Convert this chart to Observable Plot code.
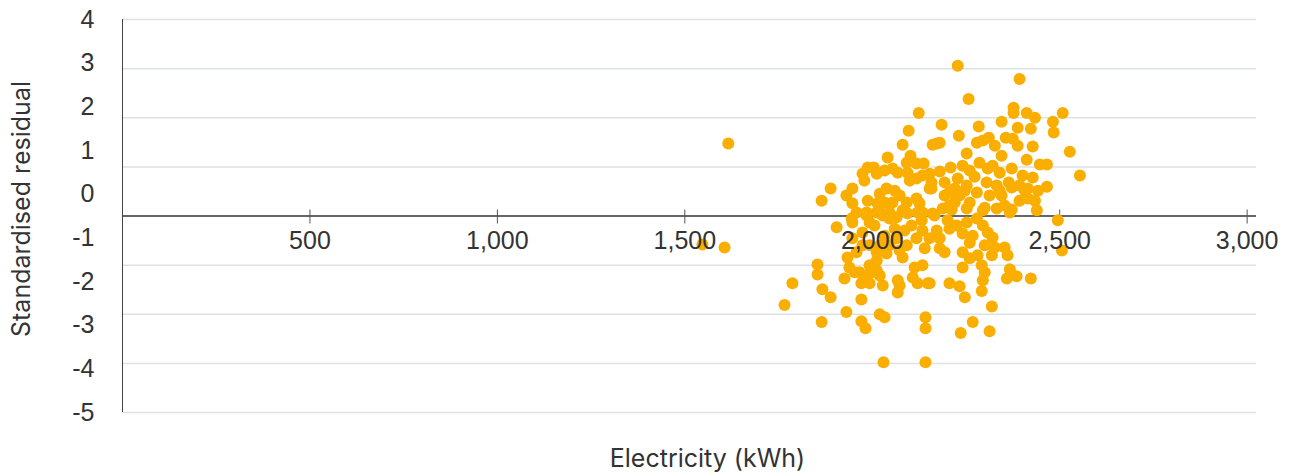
<!DOCTYPE html>
<html>
<head>
<meta charset="utf-8">
<script src="https://cdn.jsdelivr.net/npm/d3@7"></script>
<script src="https://cdn.jsdelivr.net/npm/@observablehq/plot@0.6"></script>
<style>
  html, body { margin: 0; padding: 0; background: #fff; }
  #chart svg { display: block; }
</style>
</head>
<body>
<div id="chart"></div>
<script>
// Electricity (kWh) of each observation
const electricity = [
  1616,1547,1606,2228,2393,2257,2377,2377,2412,2434,2508,2482,2484,2185,2284,2345,2388,2423,2231,2172,
  2180,2311,2356,2375,2388,2428,2527,2554,2412,2447,2466,2252,2279,2295,2327,2345,2209,2180,2372,2401,
  2428,2415,2442,2466,2415,2434,2364,2372,2241,2260,2228,2252,2233,2206,2286,2308,2321,2340,2305,2332,
  2313,2345,2279,2260,2188,2212,2439,2372,2158,2158,2193,2220,2273,2300,2393,2353,2407,2247,2124,2097,
  2081,2161,2102,2041,2092,2118,2137,1988,2004,1974,1979,2012,2033,2054,2068,2094,2100,2118,2134,2153,
  2153,1889,1865,1931,1947,1947,1988,2020,2038,2060,2073,2033,2054,2092,2118,2014,2126,1958,1985,2020,
  2046,2081,2134,2161,1905,1945,1947,1985,1993,2012,2028,2046,2065,2094,2121,2132,2134,1974,1947,1974,
  1958,1934,1993,2012,2038,2065,2092,2118,2140,2153,2081,2012,1993,1939,1953,1926,1966,1979,1993,2012,
  2020,2028,1971,1993,2068,2073,2068,2113,2134,2108,2121,2148,1971,1854,1854,1787,1766,1867,1889,1865,
  1931,1971,1982,2020,2033,2030,2142,2142,2142,2206,2252,2295,2332,2367,2166,2201,2172,2206,2180,2180,
  2193,2225,2252,2279,2295,2308,2321,2241,2268,2260,2241,2260,2281,2300,2327,2319,2353,2361,2495,2506,
  2241,2292,2300,2295,2292,2206,2233,2247,2367,2359,2385,2423,2319,2268,2236,2313,2153,2006,2033,2060,
  2086,2105,2020,2046,2073,2193,2220,2393,2340
];
// Standardised residual of each observation
const residual = [
  1.16,-1.15,-1.22,2.94,2.64,2.18,1.98,1.86,1.86,1.75,1.86,1.66,1.41,1.59,1.55,1.66,1.52,1.50,1.34,1.16,
  1.18,1.29,1.29,1.27,1.11,1.09,0.97,0.43,0.79,0.68,0.68,0.93,1.18,1.23,1.11,0.88,0.61,0.52,0.59,0.43,
  0.38,0.13,0.08,0.17,-0.10,-0.15,0.27,0.15,0.65,0.54,0.36,0.20,-0.03,0.04,0.72,0.59,0.65,0.49,0.27,0.20,
  -0.03,-0.03,0.04,-0.19,-0.33,-0.35,-0.37,-0.35,0.27,0.13,0.27,-0.19,0.40,-0.31,-0.15,-0.26,0.08,0.08,1.86,1.45,
  1.13,1.13,0.88,0.84,0.72,0.70,0.70,0.61,0.61,0.47,0.31,0.47,0.54,0.59,0.49,0.49,0.31,0.36,0.43,0.47,
  0.13,0.13,-0.15,-0.03,0.13,-0.21,-0.15,0.01,0.13,0.08,-0.03,-0.19,-0.19,-0.19,-0.10,-0.21,-0.21,-0.42,-0.42,-0.42,
  -0.42,-0.37,-0.42,-0.44,-0.76,-0.56,-0.65,-0.49,-0.65,-0.42,-0.49,-0.56,-0.53,-0.44,-0.42,-0.60,-0.83,-0.88,-1.01,-1.17,
  -1.33,-1.45,-1.17,-1.33,-1.36,-1.01,-1.17,-1.01,-1.24,-1.01,-1.45,-1.52,-1.63,-1.68,-1.79,-1.93,-1.79,-1.91,-1.81,-1.75,
  -1.86,-2.09,-2.04,-2.04,-1.97,-2.09,-2.25,-1.68,-1.63,-1.91,-2.04,-2.04,-2.41,-1.61,-1.84,-2.04,-2.54,-2.18,-2.36,-2.93,
  -2.70,-2.91,-3.07,-2.75,-2.82,-3.85,-2.82,-3.07,-3.85,-0.26,-0.33,-0.37,-0.33,-0.42,-0.49,-0.60,-0.83,-0.79,-1.01,-1.24,
  -1.33,-0.72,-0.65,-0.56,-0.72,-0.88,-0.99,-0.90,-0.95,-1.11,-1.33,-1.47,-1.40,-1.17,-1.22,-1.40,-1.22,-1.40,-0.60,-1.29,
  -1.68,-1.63,-1.79,-1.97,-2.22,-2.04,-2.11,-2.36,-1.72,-1.93,-1.88,-1.93,-2.57,-2.93,-3.18,-3.14,-2.04,-0.72,-0.95,-0.79,
  -0.83,-0.72,-1.17,-1.17,-1.29,-0.03,0.13,0.20,0.08
];

const xTicks = [500, 1000, 1500, 2000, 2500, 3000];
const yTickLabels = [4, 3, 2, 1, 0, -1, -2, -3, -4, -5];
// horizontal gridlines: nine evenly spaced lines across the value range
const gridValues = [4, 2.875, 1.75, 0.625, -1.625, -2.75, -3.875, -5];
const xAxisValue = -0.5;   // where the horizontal axis line crosses

const data = electricity.map((e, i) => ({electricity: e, residual: residual[i]}));

const textColor = "#333";
const tickFont = "'Liberation Sans', Arial, Helvetica, sans-serif";
const titleFont = "Inter, 'Noto Sans', sans-serif";

const chart = Plot.plot({
  width: 1307,
  height: 474,
  marginLeft: 122,
  marginRight: 51,
  marginTop: 19,
  marginBottom: 62,
  style: {background: "#fff", color: textColor, fontFamily: tickFont},
  x: {domain: [0, 3025], axis: null},
  y: {domain: [-5, 4], axis: null},
  marks: [
    Plot.ruleY(gridValues, {stroke: "#dde1e4", strokeWidth: 1.5}),
    Plot.ruleX([0], {y1: -5, y2: 4, stroke: "#444", strokeWidth: 1}),
    Plot.ruleY([xAxisValue], {stroke: "#333", strokeWidth: 1.3}),
    Plot.ruleX(xTicks, {x: d => d, y1: xAxisValue, y2: xAxisValue, insetTop: -6, insetBottom: -8, stroke: "#555", strokeWidth: 1}),
    Plot.dot(data, {x: "electricity", y: "residual", r: 6, fill: "#F9AE00", stroke: "none"}),
    Plot.text(xTicks, {x: d => d, y: xAxisValue, text: d => d3.format(",")(d), dy: 25, fontSize: 25, fill: textColor, fontFamily: tickFont}),
    Plot.text(yTickLabels, {x: 0, y: d => d, text: d => String(d), dx: -28, textAnchor: "end", fontSize: 25, fill: textColor, fontFamily: tickFont}),
    Plot.text(["Electricity (kWh)"], {frameAnchor: "bottom", textAnchor: "middle", lineAnchor: "middle", dx: 18, dy: 46, fontSize: 25, fill: textColor, fontFamily: titleFont}),
    Plot.text(["Standardised residual"], {frameAnchor: "left", textAnchor: "middle", lineAnchor: "middle", rotate: -90, dx: -101, dy: -7, fontSize: 25, fill: textColor, fontFamily: titleFont})
  ]
});
document.getElementById("chart").appendChild(chart);
</script>
</body>
</html>
